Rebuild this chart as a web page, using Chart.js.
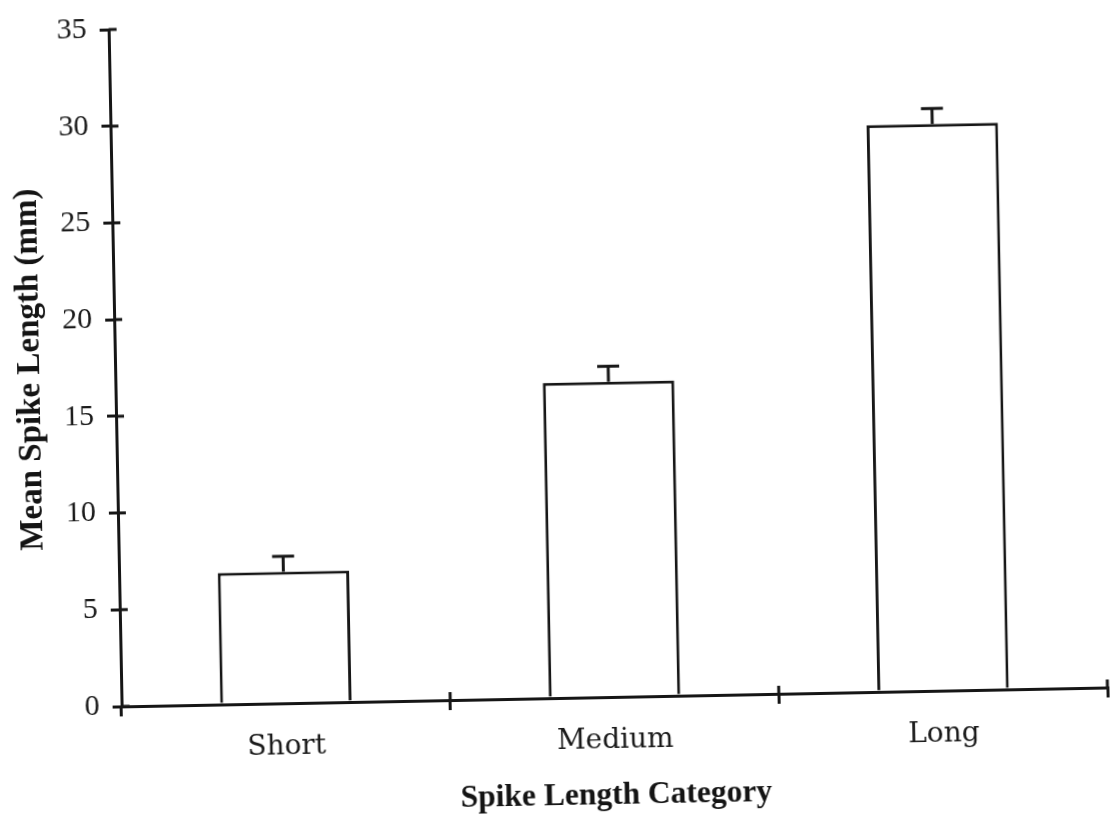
<!DOCTYPE html>
<html>
<head>
<meta charset="utf-8">
<script src="https://cdn.jsdelivr.net/npm/chart.js@4.4.1/dist/chart.umd.min.js"></script>
<style>
  html, body { margin: 0; padding: 0; background: #fff; overflow: hidden; }
  #wrap { position: absolute; left: 0; top: 0; width: 1114px; height: 820px;
          transform: rotate(-1.1deg); transform-origin: 557px 410px; }
  canvas { display: block; }
</style>
</head>
<body>
<div id="wrap"><canvas id="chart" width="1114" height="820"></canvas></div>
<script>
// Mean spike length per category, with standard error
const categories = ['Short', 'Medium', 'Long'];
const meanLength = [6.8, 16.3, 29.3];
const stdError = [0.8, 0.8, 0.8];
const yTicks = [0, 5, 10, 15, 20, 25, 30, 35];

const INK = '#161616';
const LINE_W = 3;

// Error bars (upper whisker only) and the inner half of each axis tick
const extrasPlugin = {
  id: 'extras',
  afterDatasetsDraw(chart) {
    const ctx = chart.ctx;
    const x = chart.scales.x, y = chart.scales.y;
    const meta = chart.getDatasetMeta(0);
    ctx.save();
    ctx.strokeStyle = INK;
    ctx.lineWidth = LINE_W;
    meta.data.forEach((bar, i) => {
      const top = y.getPixelForValue(meanLength[i]);
      const tip = y.getPixelForValue(meanLength[i] + stdError[i]);
      ctx.beginPath();
      ctx.moveTo(bar.x, top);
      ctx.lineTo(bar.x, tip);
      ctx.moveTo(bar.x - 11, tip);
      ctx.lineTo(bar.x + 11, tip);
      ctx.stroke();
    });
    // inner tick stubs on the value axis
    yTicks.forEach(v => {
      const py = y.getPixelForValue(v);
      ctx.beginPath();
      ctx.moveTo(y.right, py);
      ctx.lineTo(y.right + 8, py);
      ctx.stroke();
    });
    // inner tick stubs at category boundaries
    const n = categories.length;
    for (let i = 1; i <= n; i++) {
      const px = x.left + i * (x.right - x.left) / n;
      ctx.beginPath();
      ctx.moveTo(px, x.top);
      ctx.lineTo(px, x.top - 8);
      ctx.stroke();
    }
    ctx.restore();
  }
};

new Chart(document.getElementById('chart'), {
  type: 'bar',
  data: {
    labels: categories,
    datasets: [{
      data: meanLength,
      backgroundColor: '#ffffff',
      borderColor: INK,
      borderWidth: LINE_W,
      borderSkipped: 'start',
      categoryPercentage: 0.8,
      barPercentage: 0.5
    }]
  },
  options: {
    responsive: false,
    animation: false,
    devicePixelRatio: 1,
    layout: { padding: { top: 21, right: 12, left: 0, bottom: 0 } },
    plugins: { legend: { display: false }, tooltip: { enabled: false } },
    scales: {
      x: {
        afterFit(scale) { scale.height = 122; },
        grid: { display: true, drawOnChartArea: false, drawTicks: true, tickLength: 10,
                color: INK, lineWidth: LINE_W, offset: true },
        border: { display: true, color: INK, width: LINE_W },
        ticks: { color: '#1a1a1a', padding: 17,
                 font: { family: 'DejaVu Serif', size: 28 } },
        title: { display: true, text: 'Spike Length Category', color: '#141414',
                 padding: { top: 0, bottom: 4 },
                 font: { family: 'Liberation Serif', size: 31.5, weight: 'bold' } }
      },
      y: {
        min: 0, max: 35,
        afterFit(scale) {
          scale.width = 116;
          scale.paddingTop = 0;
          scale.paddingBottom = 0;
        },
        afterBuildTicks(scale) { scale.ticks = yTicks.map(v => ({ value: v })); },
        grid: { display: true, drawOnChartArea: false, drawTicks: true, tickLength: 9,
                color: INK, lineWidth: LINE_W },
        border: { display: true, color: INK, width: LINE_W },
        ticks: { color: '#1a1a1a', padding: 13,
                 font: { family: 'Liberation Serif', size: 30 } },
        title: { display: true, text: 'Mean Spike Length (mm)', color: '#141414',
                 padding: { top: 12, bottom: 0 },
                 font: { family: 'Liberation Serif', size: 33, weight: 'bold' } }
      }
    }
  },
  plugins: [extrasPlugin]
});
</script>
</body>
</html>
